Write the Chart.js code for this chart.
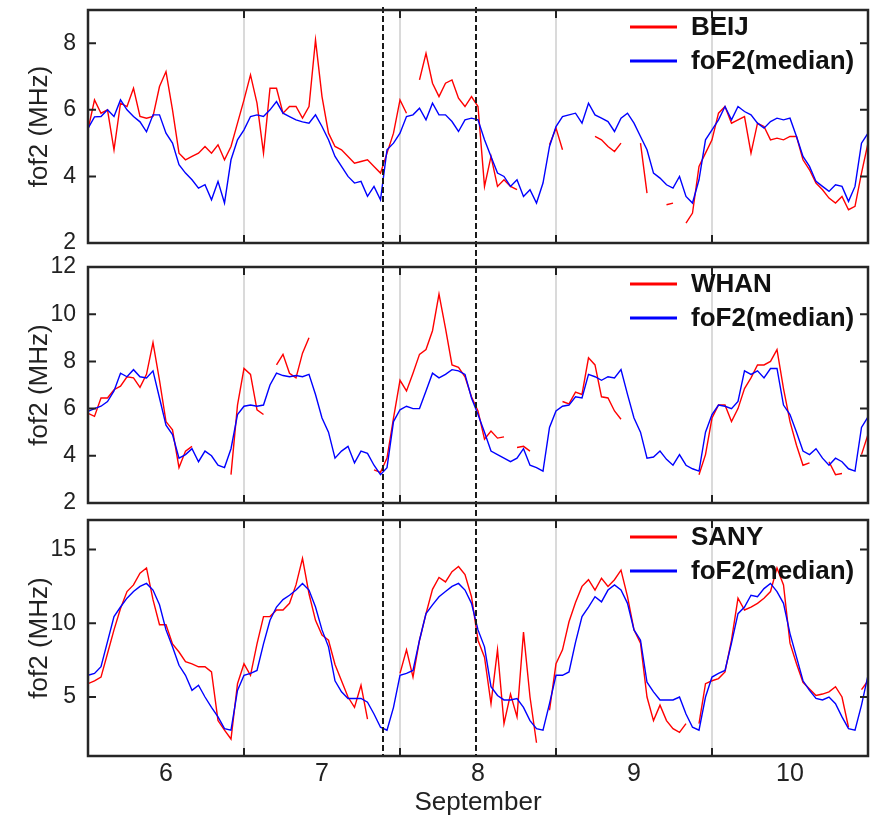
<!DOCTYPE html>
<html>
<head>
<meta charset="utf-8">
<title>foF2 observed vs median, 6-10 September</title>
<script src="https://cdn.jsdelivr.net/npm/chart.js@4.4.1/dist/chart.umd.min.js"></script>
<style>
  html, body { margin: 0; padding: 0; background: #fff; }
  #wrap { position: relative; width: 872px; height: 820px; background: #fff; }
  #wrap canvas { position: absolute; left: 0; top: 0; }
</style>
</head>
<body>
<div id="wrap">
  <canvas id="pBeij" width="872" height="820"></canvas>
  <canvas id="pWhan" width="872" height="820"></canvas>
  <canvas id="pSany" width="872" height="820"></canvas>
</div>
<script>
// Hourly samples starting at 12 UT on 5 September (day 5.5), 121 values each.
const startDay = 5.5;
const stepDay = 1 / 24;

// x-axis labels (days of September) and day boundaries
const dayLabels = [6, 7, 8, 9, 10];
const dayEdges = [6.5, 7.5, 8.5, 9.5];
// storm markers (day of September)
const eventDays = [7.39, 7.985];

// y tick values per panel
const beijTicks = [2, 4, 6, 8];
const whanTicks = [2, 4, 6, 8, 10, 12];
const sanyTicks = [5, 10, 15];

// Beijing
const beijObs = [
  5.4, 6.3, 5.9, 6.0, 4.8, 6.2, 6.1, 6.65, 5.8, 5.75,
  5.8, 6.7, 7.15, 6.0, 4.7, 4.5, 4.6, 4.7, 4.9, 4.7,
  4.95, 4.5, 4.9, 5.6, 6.3, 7.05, 6.2, 4.7, 6.65, 6.65,
  5.9, 6.1, 6.1, 5.75, 6.1, 8.1, 6.4, 5.3, 4.9, 4.8,
  4.6, 4.4, 4.45, 4.5, 4.3, 4.1, 4.7, 5.3, 6.3, 5.9,
  null, 6.9, 7.7, 6.8, 6.4, 6.8, 6.9, 6.35, 6.1, 6.4,
  6.1, 3.7, 4.6, 3.7, 3.9, 3.7, 3.6, null, null, null,
  null, 4.95, 5.45, 4.8, null, null, null, null, 5.2, 5.1,
  4.9, 4.75, 5.0, null, null, 5.0, 3.5, null, null, 3.15,
  3.2, null, 2.6, 2.9, 4.3, 4.7, 5.1, 5.9, 6.1, 5.6,
  5.7, 5.8, 4.7, 5.6, 5.5, 5.1, 5.15, 5.1, 5.2, 5.2,
  4.5, 4.2, 3.8, 3.6, 3.35, 3.2, 3.4, 3.0, 3.1, 4.1, 5.0
];
const beijMed = [
  5.44, 5.79, 5.8, 6.0, 5.8, 6.3, 6.0, 5.8, 5.64, 5.34,
  5.85, 5.85, 5.3, 5.0, 4.35, 4.1, 3.9, 3.65, 3.75, 3.3,
  3.85, 3.2, 4.5, 5.1, 5.4, 5.8, 5.85, 5.8, 6.0, 6.25,
  5.9, 5.8, 5.7, 5.64, 5.6, 5.85, 5.5, 5.1, 4.6, 4.3,
  4.0, 3.8, 3.85, 3.4, 3.7, 3.3, 4.8, 5.0, 5.3, 5.8,
  5.85, 6.05, 5.7, 6.2, 5.85, 5.85, 5.65, 5.35, 5.7, 5.75,
  5.7, 5.1, 4.6, 4.1, 4.0, 3.7, 3.9, 3.4, 3.6, 3.2,
  3.8, 4.9, 5.5, 5.8, 5.85, 5.9, 5.6, 6.2, 5.85, 5.75,
  5.65, 5.35, 5.75, 5.9, 5.6, 5.2, 4.8, 4.1, 3.95, 3.75,
  3.65, 4.0, 3.4, 3.2, 3.9, 5.1, 5.4, 5.7, 6.1, 5.7,
  6.1, 5.95, 5.85, 5.6, 5.45, 5.65, 5.75, 5.7, 5.75, 5.2,
  4.6, 4.3, 3.85, 3.7, 3.55, 3.75, 3.7, 3.25, 3.7, 5.0, 5.3
];

// Wuhan
const whanObs = [
  5.8, 5.67, 6.45, 6.45, 6.8, 6.95, 7.35, 7.3, 6.9, 7.45,
  8.8, 7.2, 5.45, 5.1, 3.5, 4.2, 4.4, null, null, null,
  null, null, 3.2, 6.15, 7.7, 7.45, 5.95, 5.75, null, 7.85,
  8.3, 7.5, 7.3, 8.35, 9.0, null, null, null, null, null,
  null, null, null, null, 3.4, 3.3, 3.9, 5.6, 7.2, 6.75,
  7.5, 8.3, 8.5, 9.3, 10.85, 9.4, 7.85, 7.75, 7.35, 6.5,
  5.9, 4.7, 5.05, 4.75, 4.8, null, 4.35, 4.4, 4.2, null,
  null, null, null, 6.3, 6.2, 6.7, 6.6, 8.15, 7.85, 6.5,
  6.45, 5.9, 5.55, null, null, null, null, null, null, null,
  null, null, null, null, 3.2, 4.05, 5.6, 6.15, 6.15, 5.45,
  6.0, 6.85, 7.3, 7.85, 7.85, 8.0, 8.5, 6.85, 5.45, 4.45,
  3.6, 3.7, null, null, 3.75, 3.2, 3.25, null, null, 4.05, 4.9
];
const whanMed = [
  5.88, 6.0, 6.1, 6.3, 6.75, 7.5, 7.35, 7.65, 7.35, 7.3,
  7.6, 6.45, 5.3, 4.9, 3.9, 4.05, 4.3, 3.75, 4.2, 4.0,
  3.6, 3.5, 4.3, 5.75, 6.1, 6.15, 6.1, 6.15, 7.0, 7.5,
  7.4, 7.35, 7.4, 7.35, 7.45, 6.6, 5.6, 5.0, 3.9, 4.2,
  4.4, 3.7, 4.2, 4.1, 3.6, 3.2, 3.5, 5.45, 5.95, 6.1,
  6.0, 6.0, 6.75, 7.5, 7.3, 7.45, 7.65, 7.6, 7.45, 6.45,
  5.75, 5.0, 4.2, 4.05, 3.9, 3.75, 3.9, 4.3, 3.6, 3.5,
  3.35, 5.2, 5.9, 6.1, 6.15, 6.5, 6.45, 7.45, 7.35, 7.2,
  7.35, 7.3, 7.65, 6.6, 5.6, 5.0, 3.9, 3.95, 4.2, 3.85,
  3.6, 4.05, 3.6, 3.45, 3.35, 5.0, 5.75, 6.15, 6.1, 6.0,
  6.3, 7.6, 7.45, 7.6, 7.3, 7.7, 7.7, 6.15, 5.75, 5.0,
  4.2, 4.05, 4.3, 3.9, 3.6, 3.9, 3.75, 3.45, 3.35, 5.2, 5.65
];

// Sanya
const sanyObs = [
  5.9, 6.1, 6.35, 7.95, 9.55, 11.0, 12.15, 12.6, 13.4, 13.75,
  11.6, 9.9, 9.9, 8.6, 8.05, 7.4, 7.25, 7.05, 7.05, 6.7,
  3.4, 2.75, 2.15, 5.9, 7.25, 6.47, 8.6, 10.45, 10.45, 10.9,
  10.9, 11.35, 12.6, 14.4, 12.0, 10.2, 9.2, 8.85, 7.2, 6.1,
  5.0, 4.3, 5.8, 3.5, null, null, null, null, 6.6, 8.2,
  6.35, 8.85, 10.65, 12.3, 13.1, 12.8, 13.5, 13.85, 13.3, 11.8,
  8.85, 7.7, 4.55, 8.2, 3.2, 5.2, 3.65, 9.4, 5.0, 1.9,
  null, 4.1, 7.25, 8.2, 10.1, 11.4, 12.5, 12.95, 12.25, 13.05,
  12.5, 12.95, 13.6, 11.8, 9.55, 8.65, 5.0, 3.4, 4.45, 3.4,
  2.85, 2.6, 3.2, null, 3.2, 5.9, 6.1, 6.25, 6.7, 8.85,
  11.7, 10.9, 11.1, 11.35, 11.7, 12.15, 13.75, 12.6, 8.65, 7.25,
  6.0, 5.55, 5.1, 5.2, 5.35, 5.7, 5.0, 2.95, null, 5.5, 6.1
];
const sanyMed = [
  6.47, 6.6, 7.05, 8.75, 10.45, 11.1, 11.7, 12.15, 12.5, 12.7,
  12.25, 11.25, 9.55, 8.4, 7.15, 6.47, 5.45, 5.8, 5.0, 4.3,
  3.65, 2.85, 2.75, 5.45, 6.47, 6.6, 6.8, 8.6, 10.2, 11.1,
  11.6, 11.9, 12.25, 12.7, 12.25, 11.1, 9.55, 8.4, 6.1, 5.35,
  4.9, 4.9, 4.9, 4.65, 3.85, 2.95, 2.75, 4.3, 6.47, 6.6,
  6.8, 8.85, 10.65, 11.25, 11.8, 12.15, 12.5, 12.7, 12.25, 11.35,
  9.55, 8.4, 5.7, 5.1, 4.8, 4.8, 4.9, 4.3, 3.4, 2.85,
  2.75, 4.55, 6.47, 6.47, 6.7, 8.7, 10.45, 11.1, 11.8, 11.45,
  12.25, 12.6, 12.25, 11.35, 9.55, 8.85, 6.0, 5.35, 4.8, 4.8,
  4.8, 5.0, 3.85, 2.95, 2.75, 5.0, 6.35, 6.6, 6.8, 8.65,
  10.65, 11.1, 11.9, 11.8, 12.35, 12.7, 12.15, 11.35, 9.3, 7.7,
  6.1, 5.45, 4.9, 4.8, 5.0, 4.55, 3.65, 2.85, 2.75, 4.45, 6.47
];

const FONT = "'Liberation Sans', Arial, Helvetica, sans-serif";
const INK = '#222222';
const RED = '#ff0000';
const BLUE = '#0000ff';

function toPoints(values) {
  return values.map((v, i) => ({ x: startDay + i * stepDay, y: v }));
}

// Frame, inward ticks, day boundaries, storm markers and legend
const panelDecor = {
  id: 'panelDecor',
  beforeDatasetsDraw(chart) {
    const { ctx, chartArea: a, scales: { x } } = chart;
    ctx.save();
    ctx.strokeStyle = '#dadada';
    ctx.lineWidth = 2;
    dayEdges.forEach(d => {
      const px = x.getPixelForValue(d);
      ctx.beginPath(); ctx.moveTo(px, a.top); ctx.lineTo(px, a.bottom); ctx.stroke();
    });
    ctx.restore();
  },
  afterDatasetsDraw(chart, args, opts) {
    const { ctx, chartArea: a, scales: { x, y } } = chart;
    ctx.save();
    // storm markers, carried down through the gap to the next panel
    ctx.strokeStyle = '#1a1a1a';
    ctx.lineWidth = 2;
    ctx.setLineDash([6, 3]);
    const yStart = opts.dashFrom != null ? opts.dashFrom : a.top;
    const yEnd = opts.dashTo != null ? opts.dashTo : a.bottom;
    eventDays.forEach(d => {
      const px = Math.round(x.getPixelForValue(d));
      ctx.beginPath(); ctx.moveTo(px, yStart); ctx.lineTo(px, yEnd); ctx.stroke();
    });
    ctx.setLineDash([]);

    // inward tick marks
    ctx.strokeStyle = INK;
    ctx.lineWidth = 2;
    const tl = 8;
    dayEdges.forEach(d => {
      const px = x.getPixelForValue(d);
      ctx.beginPath();
      ctx.moveTo(px, a.top); ctx.lineTo(px, a.top + tl);
      ctx.moveTo(px, a.bottom); ctx.lineTo(px, a.bottom - tl);
      ctx.stroke();
    });
    y.ticks.forEach(t => {
      const py = y.getPixelForValue(t.value);
      ctx.beginPath();
      ctx.moveTo(a.left, py); ctx.lineTo(a.left + tl, py);
      ctx.moveTo(a.right, py); ctx.lineTo(a.right - tl, py);
      ctx.stroke();
    });

    // frame
    ctx.lineWidth = 2.5;
    ctx.strokeStyle = '#262626';
    ctx.strokeRect(a.left, a.top, a.right - a.left, a.bottom - a.top);

    // legend
    const items = chart.data.datasets.slice().sort((p, q) => p.legendRank - q.legendRank);
    ctx.font = 'bold 26px ' + FONT;
    ctx.textBaseline = 'middle';
    ctx.textAlign = 'left';
    items.forEach((ds, k) => {
      const ly = a.top + 17 + k * 34;
      ctx.strokeStyle = ds.borderColor;
      ctx.lineWidth = 3;
      ctx.beginPath(); ctx.moveTo(630, ly); ctx.lineTo(677, ly); ctx.stroke();
      ctx.fillStyle = '#111';
      ctx.fillText(ds.label, 691, ly + 1);
    });
    ctx.restore();
  }
};

function makePanel(id, station, obs, med, yMin, yMax, yTicks, opts) {
  const showX = !!opts.showX;
  return new Chart(document.getElementById(id), {
    type: 'line',
    data: {
      datasets: [
        { label: station, data: toPoints(obs), borderColor: RED, borderWidth: 1.4,
          pointRadius: 0, spanGaps: false, order: 2, legendRank: 0 },
        { label: 'foF2(median)', data: toPoints(med), borderColor: BLUE, borderWidth: 1.4,
          pointRadius: 0, spanGaps: false, order: 1, legendRank: 1 }
      ]
    },
    options: {
      responsive: false,
      animation: false,
      events: [],
      layout: { padding: opts.padding },
      plugins: {
        legend: { display: false },
        tooltip: { enabled: false },
        panelDecor: { dashFrom: opts.dashFrom, dashTo: opts.dashTo }
      },
      scales: {
        x: {
          type: 'linear', min: 5.5, max: 10.5, display: showX,
          afterBuildTicks: s => { s.ticks = dayLabels.map(v => ({ value: v })); },
          ticks: { font: { family: FONT, size: 25 }, color: INK, padding: 3,
                   autoSkip: false, maxRotation: 0, callback: v => String(v) },
          grid: { display: false, drawTicks: false },
          border: { display: false },
          title: { display: showX, text: 'September', color: INK,
                   font: { family: FONT, size: 26 }, padding: { top: 0, bottom: 0 } },
          afterFit: s => {
            if (showX) s.height = 62;
            s.paddingLeft = 0; s.paddingRight = 0;
          }
        },
        y: {
          type: 'linear', min: yMin, max: yMax,
          afterBuildTicks: s => { s.ticks = yTicks.map(v => ({ value: v })); },
          ticks: { font: { family: FONT, size: 23 }, color: INK, padding: 12 },
          grid: { display: false, drawTicks: false },
          border: { display: false },
          title: { display: true, text: 'fof2 (MHz)', color: INK,
                   font: { family: FONT, size: 26 }, padding: { top: 24, bottom: 0 } },
          afterFit: s => { s.width = 88; s.paddingTop = 0; s.paddingBottom = 0; }
        }
      }
    },
    plugins: [panelDecor]
  });
}

// three stacked panels share one 872x820 page; padding places each plot box
makePanel('pBeij', 'BEIJ', beijObs, beijMed, 2, 9, beijTicks,
  { padding: { top: 10, bottom: 577, left: 0, right: 4 }, dashFrom: 7, dashTo: 267 });
makePanel('pWhan', 'WHAN', whanObs, whanMed, 2, 12, whanTicks,
  { padding: { top: 267, bottom: 317, left: 0, right: 4 }, dashTo: 520 });
makePanel('pSany', 'SANY', sanyObs, sanyMed, 1, 17, sanyTicks,
  { padding: { top: 520, bottom: 2, left: 0, right: 4 }, showX: true });
</script>
</body>
</html>
